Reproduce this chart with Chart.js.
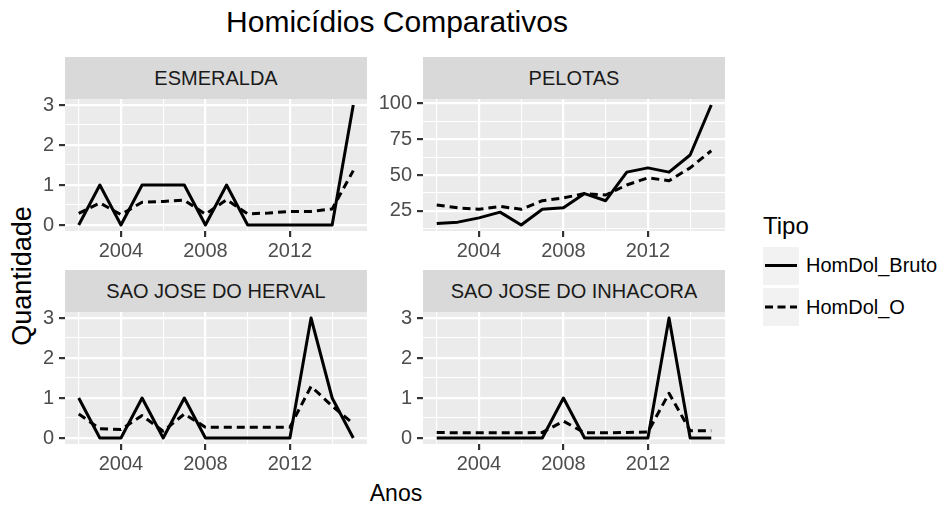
<!DOCTYPE html>
<html><head><meta charset="utf-8">
<script src="https://cdn.jsdelivr.net/npm/chart.js@4.4.1/dist/chart.umd.min.js"></script>
<style>
html,body{margin:0;padding:0;background:#fff;}
body{width:938px;height:506px;overflow:hidden;position:relative;font-family:"Liberation Sans",Arial,sans-serif;}
.abs{position:absolute;white-space:nowrap;}
.strip{position:absolute;background:#D9D9D9;color:#1A1A1A;font-size:20px;line-height:42px;height:42px;text-align:center;}
canvas{position:absolute;}
</style></head><body>
<div class="abs" style="left:0;width:794px;top:7px;font-size:30px;line-height:30px;text-align:center;color:#000">Homicídios Comparativos</div>
<div class="abs" style="left:-78px;width:200px;top:262px;height:28px;font-size:27px;line-height:28px;text-align:center;color:#000;transform:rotate(-90deg);">Quantidade</div>
<div class="abs" style="left:296px;width:200px;top:482px;font-size:23px;line-height:23px;text-align:center;color:#000">Anos</div>

<div class="strip" style="left:65px;top:57px;width:302px;">ESMERALDA</div>
<div class="strip" style="left:423px;top:57px;width:302px;">PELOTAS</div>
<div class="strip" style="left:65px;top:270px;width:302px;">SAO JOSE DO HERVAL</div>
<div class="strip" style="left:423px;top:270px;width:302px;">SAO JOSE DO INHACORA</div>

<canvas id="c1"></canvas><canvas id="c2"></canvas><canvas id="c3"></canvas><canvas id="c4"></canvas>

<div class="abs" style="left:763px;top:214px;font-size:24px;line-height:24px;color:#000">Tipo</div>
<svg class="abs" style="left:760px;top:244px" width="44" height="86">
  <rect x="3" y="3" width="36" height="38" fill="#F2F2F2"/>
  <rect x="3" y="44" width="36" height="38" fill="#F2F2F2"/>
  <line x1="5" y1="21.5" x2="37" y2="21.5" stroke="#000" stroke-width="3"/>
  <line x1="5" y1="63" x2="37" y2="63" stroke="#000" stroke-width="3" stroke-dasharray="8 4.5"/>
</svg>
<div class="abs" style="left:806px;top:255px;font-size:20px;line-height:20px;color:#000">HomDol_Bruto</div>
<div class="abs" style="left:806px;top:297px;font-size:20px;line-height:20px;color:#000">HomDol_O</div>

<script>
const years = [2002,2003,2004,2005,2006,2007,2008,2009,2010,2011,2012,2013,2014,2015];
const xGridTicks = [2002,2004,2006,2008,2010,2012,2014];
const xTickLabels = [2004,2008,2012];
const countGridTicks = [0,0.5,1,1.5,2,2.5,3];
const countTickLabels = [0,1,2,3];
const pelotasGridTicks = [12.5,25,37.5,50,62.5,75,87.5,100];
const pelotasTickLabels = [25,50,75,100];

const esmeraldaBruto = [0,1,0,1,1,1,0,1,0,0,0,0,0,3];
const esmeraldaO     = [0.29,0.55,0.26,0.57,0.59,0.62,0.27,0.63,0.28,0.30,0.34,0.34,0.40,1.36];
const pelotasBruto   = [16,17,20,24,15,26,27,37,32,52,55,52,64,99];
const pelotasO       = [29,27,26,28,26,32,34,37,36,43,48,46,55,67];
const hervalBruto    = [1,0,0,1,0,1,0,0,0,0,0,3,1,0];
const hervalO        = [0.60,0.23,0.21,0.56,0.17,0.60,0.27,0.27,0.27,0.27,0.27,1.29,0.80,0.36];
const inhacoraBruto  = [0,0,0,0,0,0,1,0,0,0,0,3,0,0];
const inhacoraO      = [0.14,0.13,0.13,0.13,0.13,0.14,0.42,0.13,0.13,0.14,0.15,1.12,0.18,0.18];

const FONT = "'Liberation Sans', Arial, sans-serif";
const panelBg = {
  id: 'panelBg',
  beforeDraw(chart) {
    const {ctx, chartArea: a} = chart;
    ctx.save(); ctx.fillStyle = '#EBEBEB';
    ctx.fillRect(a.left, a.top, a.width, a.height); ctx.restore();
  }
};

function expandRange(vals) {
  const mn = Math.min(...vals), mx = Math.max(...vals), d = (mx - mn) * 0.05;
  return [mn - d, mx + d];
}

const PAD_L = 60, PAD_T = 20, PAD_R = 8, AX_H = 45, PW = 302, PH = 132;

function makePanel(id, left, top, bruto, o, gridTicks, tickLabels) {
  const cv = document.getElementById(id);
  cv.width = PAD_L + PW + PAD_R; cv.height = PAD_T + PH + AX_H;
  cv.style.left = (left - PAD_L) + 'px'; cv.style.top = (top - PAD_T) + 'px';
  const [xmin, xmax] = expandRange(years);
  const [ymin, ymax] = expandRange(bruto.concat(o));
  const xMajor = v => xTickLabels.includes(v);
  const yMajor = v => tickLabels.includes(v);
  const gridOpts = (isMajor) => ({
    color: '#FFFFFF',
    lineWidth: c => (c.tick && isMajor(c.tick.value)) ? 2.2 : 1.1,
    drawTicks: true, tickLength: 6,
    tickColor: c => (c.tick && isMajor(c.tick.value)) ? '#333333' : 'rgba(0,0,0,0)',
    tickWidth: c => (c.tick && isMajor(c.tick.value)) ? 2.2 : 0
  });
  new Chart(cv, {
    type: 'line',
    data: {
      datasets: [
        { label: 'HomDol_O', data: years.map((x, i) => ({x, y: o[i]})),
          borderColor: '#000', borderWidth: 3, borderDash: [8, 5], pointRadius: 0,
          borderCapStyle: 'butt', borderJoinStyle: 'round', tension: 0, fill: false },
        { label: 'HomDol_Bruto', data: years.map((x, i) => ({x, y: bruto[i]})),
          borderColor: '#000', borderWidth: 3, pointRadius: 0,
          borderCapStyle: 'butt', borderJoinStyle: 'round', tension: 0, fill: false }
      ]
    },
    options: {
      responsive: false, animation: false, devicePixelRatio: 1,
      layout: { padding: { left: 0, top: PAD_T, right: PAD_R, bottom: 0 } },
      plugins: { legend: { display: false }, tooltip: { enabled: false } },
      events: [],
      scales: {
        x: {
          type: 'linear', min: xmin, max: xmax,
          afterBuildTicks: s => { s.ticks = xGridTicks.map(v => ({value: v})); },
          afterFit: s => { s.height = AX_H; },
          ticks: { autoSkip: false, maxRotation: 0, minRotation: 0, padding: 2, color: '#4D4D4D',
                   font: { size: 20, family: FONT },
                   callback: v => xMajor(v) ? String(v) : '' },
          grid: gridOpts(xMajor),
          border: { display: false }
        },
        y: {
          type: 'linear', min: ymin, max: ymax,
          afterBuildTicks: s => { s.ticks = gridTicks.map(v => ({value: v})); },
          afterFit: s => { s.width = PAD_L; },
          ticks: { autoSkip: false, padding: 5, color: '#4D4D4D',
                   font: { size: 20, family: FONT },
                   callback: v => yMajor(v) ? String(v) : '' },
          grid: gridOpts(yMajor),
          border: { display: false }
        }
      }
    },
    plugins: [panelBg]
  });
}

makePanel('c1', 65, 99, esmeraldaBruto, esmeraldaO, countGridTicks, countTickLabels);
makePanel('c2', 423, 99, pelotasBruto, pelotasO, pelotasGridTicks, pelotasTickLabels);
makePanel('c3', 65, 312, hervalBruto, hervalO, countGridTicks, countTickLabels);
makePanel('c4', 423, 312, inhacoraBruto, inhacoraO, countGridTicks, countTickLabels);
</script>
</body></html>
